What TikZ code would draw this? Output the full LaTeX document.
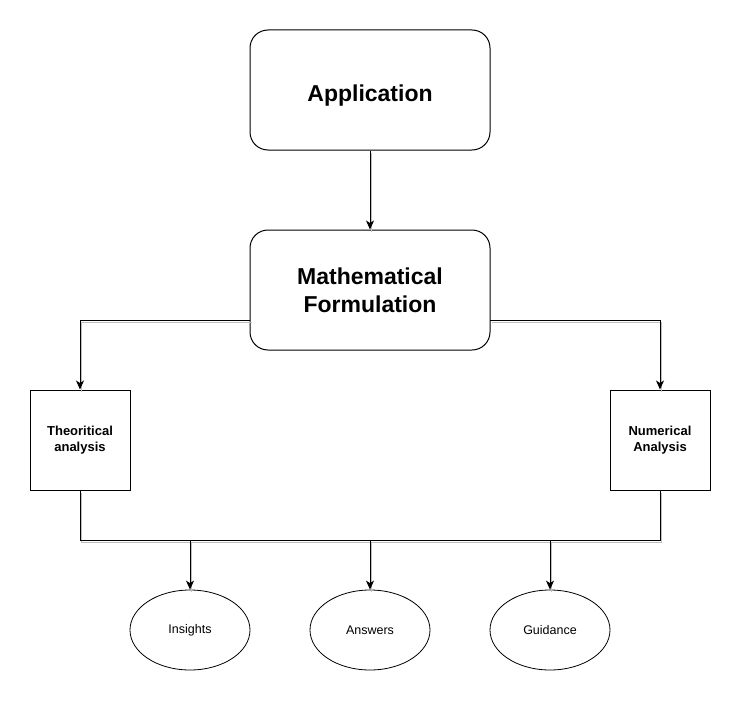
\documentclass[tikz,border=0pt]{standalone}
\usepackage{fontspec}
\setmainfont{Liberation Sans}
\usetikzlibrary{shapes.geometric,arrows.meta,calc}
\begin{document}
\begin{tikzpicture}[x=1pt,y=-1pt,
  bigfont/.style={font=\fontsize{23}{27.6}\selectfont\bfseries},
  rbox/.style={draw,line width=1pt,rounded corners=18pt,minimum width=240pt,minimum height=120pt,inner sep=0pt,align=center,bigfont},
  sbox/.style={draw,line width=1pt,minimum width=100pt,minimum height=100pt,inner sep=0pt,align=center,font=\fontsize{13}{15.6}\selectfont\bfseries},
  ell/.style={draw,ellipse,line width=0.8pt,minimum width=120pt,minimum height=80pt,inner sep=0pt,font=\fontsize{12.5}{15}\selectfont},
  conn/.style={line width=1pt,preaction={draw=black!25,line width=1pt,-,transform canvas={shift={(1.6pt,-2pt)}}}},
  arr/.style={conn,-{Stealth[length=9pt,width=8pt,inset=2.5pt]}}
]
\useasboundingbox (0,0) rectangle (741,701);
\node[rbox] (app) at (370,90) {};
\node[bigfont,inner sep=0pt] (apptext) at ([yshift=-6pt]app.center) {Application};
\node[rbox] (math) at (370,290) {Mathematical\\Formulation};
\node[sbox] (theo) at (80,440) {Theoritical\\analysis};
\node[sbox] (num) at (660,440) {Numerical\\Analysis};
\node[ell] (ins) at (190,630) {Insights};
\node[ell] (ans) at (370,630) {Answers};
\node[ell] (gui) at (550,630) {Guidance};
\coordinate (bus) at (370,540);
\coordinate (ml) at (250,320);
\coordinate (mr) at (490,320);
\draw[arr] (app.south) -- (math.north);
\draw[arr] (ml) -| (theo.north);
\draw[arr] (mr) -| (num.north);
\draw[conn] (theo.south) |- (num.south |- bus) -- (num.south);
\draw[arr] (ins.north |- bus) -- (ins.north);
\draw[arr] (ans.north |- bus) -- (ans.north);
\draw[arr] (gui.north |- bus) -- (gui.north);
\end{tikzpicture}
\end{document}
